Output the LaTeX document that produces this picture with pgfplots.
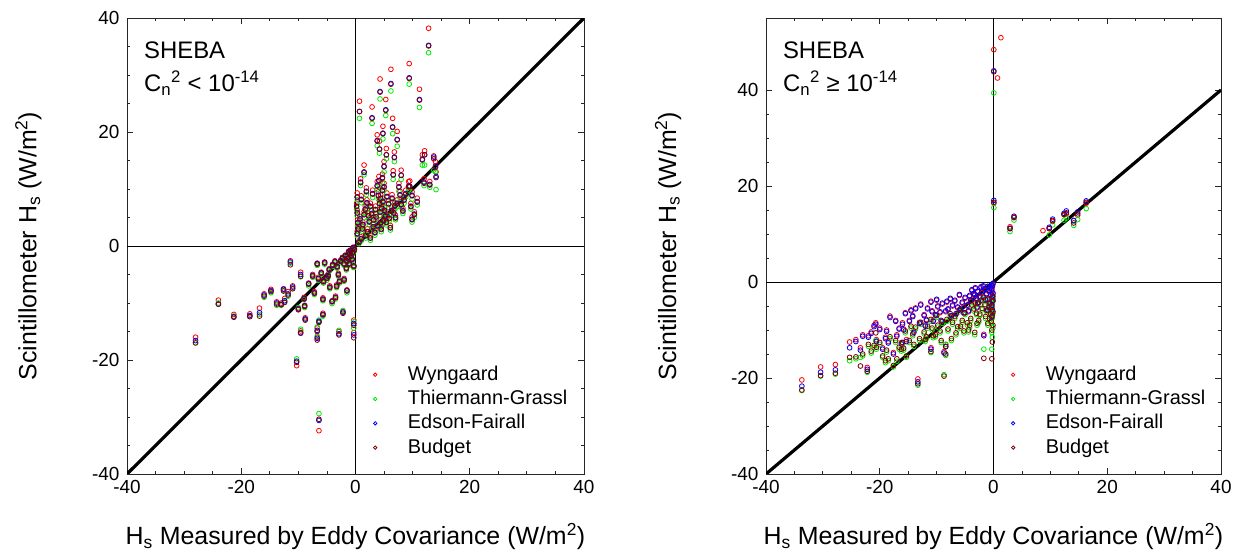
\documentclass[border=0pt]{standalone}
\usepackage{fontspec}
\setmainfont{Liberation Sans}
\usepackage{pgfplots}
\pgfplotsset{compat=1.18}
\usepackage{pgfplotstable}

\definecolor{wy}{RGB}{255,0,0}
\definecolor{tg}{RGB}{0,235,0}
\definecolor{ef}{RGB}{0,0,255}
\definecolor{bu}{RGB}{128,0,0}

\pgfplotstableread{
x W T E B
12.8 38.2 33.9 35.2 35.1
9.4 32.0 28.4 29.5 29.4
6.2 31.0 27.2 28.5 28.4
4.3 29.3 25.8 27.1 27.0
11.2 27.5 24.3 25.7 25.6
0.7 25.4 22.4 23.6 23.6
2.9 24.4 21.5 22.5 22.4
5.3 25.7 22.9 23.9 23.8
6.5 22.4 19.7 20.9 20.8
7.3 20.1 17.5 18.7 18.6
4.2 18.4 16.3 17.0 17.0
5.4 17.1 15.3 16.0 16.0
12.1 16.7 14.2 16.0 16.0
13.7 15.8 13.3 15.6 15.3
14.1 13.0 9.9 12.2 12.0
1.5 14.2 12.5 12.9 13.0
4.7 12.6 11.2 12.0 11.9
6.6 13.2 11.7 12.5 12.5
8.0 13.3 11.7 12.4 12.4
9.5 11.4 9.6 10.5 10.4
4.8 21.0 18.8 19.8 19.7
3.8 19.5 17.6 18.5 18.4
5.0 14.8 13.0 14.0 13.9
6.8 16.5 14.8 15.6 15.5
0.3 9.3 8.1 8.6 8.6
0.3 6.3 5.3 5.8 5.8
0.4 4.6 3.6 4.1 4.0
0.3 2.6 1.8 2.2 2.1
0.8 5.2 4.2 4.8 4.7
1.5 6.0 5.0 5.5 5.5
1.2 3.5 2.6 3.0 3.0
2.0 8.1 7.0 7.6 7.5
2.6 7.5 6.4 7.0 6.9
2.1 3.0 2.0 2.5 2.5
2.6 1.8 1.0 1.4 1.4
2.4 4.8 3.8 4.3 4.2
3.2 5.1 4.0 4.6 4.6
3.4 2.8 1.9 2.4 2.3
3.0 9.8 8.5 9.2 9.1
3.8 11.3 9.9 10.6 10.5
4.0 9.5 8.2 8.9 8.8
4.2 8.0 6.8 7.5 7.4
4.3 6.5 5.4 6.0 5.9
4.4 4.6 3.6 4.1 4.0
4.5 3.4 2.5 3.0 2.9
4.7 10.4 9.1 9.8 9.7
4.6 7.2 6.0 6.6 6.6
4.9 5.0 3.9 4.5 4.4
5.5 9.3 8.0 8.7 8.6
5.8 8.0 6.8 7.4 7.4
6.1 3.6 2.8 3.2 3.2
6.3 6.8 5.6 6.2 6.1
6.7 6.3 5.3 5.8 5.8
5.2 5.8 4.7 5.3 5.2
7.3 8.1 6.9 7.5 7.4
7.6 11.0 9.6 10.4 10.3
8.0 7.8 6.8 7.3 7.2
8.5 8.6 7.5 8.1 8.0
9.3 11.3 9.8 10.5 10.4
9.9 9.5 8.2 8.9 8.8
9.7 7.5 6.5 7.0 6.9
10.3 6.0 5.0 5.6 5.5
9.9 5.1 4.2 4.7 4.6
11.7 16.0 14.2 15.2 15.1
13.0 11.3 10.3 10.8 10.7
1.0 1.6 0.9 1.3 1.2
1.8 2.2 1.4 1.8 1.8
0.6 0.9 0.4 0.7 0.6
5.0 11.0 9.8 10.4 10.3
3.5 7.0 5.9 6.4 6.4
0.2 7.5 6.4 7.0 6.9
0.5 3.4 2.6 3.0 3.0
1.0 8.8 7.6 8.2 8.1
1.3 4.2 3.3 3.8 3.7
1.7 7.0 5.9 6.5 6.4
2.3 5.8 4.8 5.3 5.3
2.8 6.2 5.2 5.7 5.6
3.1 3.8 2.9 3.4 3.3
3.6 5.6 4.6 5.1 5.1
3.9 4.0 3.1 3.6 3.5
4.1 12.2 10.8 11.5 11.4
4.4 9.0 7.8 8.4 8.3
4.8 8.4 7.2 7.8 7.7
5.1 6.8 5.7 6.3 6.2
5.4 4.6 3.7 4.2 4.1
5.9 5.4 4.4 4.9 4.8
6.4 9.0 7.8 8.4 8.3
6.9 7.6 6.5 7.1 7.0
7.0 5.4 4.6 5.0 4.9
7.8 9.6 8.4 9.0 8.9
8.3 6.6 5.7 6.2 6.1
8.8 9.8 8.6 9.2 9.1
10.8 8.4 7.2 7.8 7.7
12.0 11.8 10.6 11.2 11.0
14.0 14.8 13.0 14.0 13.8
0.9 11.8 10.6 11.2 11.1
1.9 10.2 9.0 9.6 9.5
-0.2 -0.5 -0.9 -0.6 -0.7
-0.5 -1.0 -1.4 -1.1 -1.2
-0.8 -1.6 -2.0 -1.7 -1.8
-1.0 -1.2 -1.6 -1.3 -1.4
-1.3 -2.0 -2.4 -2.1 -2.2
-1.5 -2.5 -2.9 -2.6 -2.7
-0.6 -2.2 -2.6 -2.3 -2.4
-1.1 -3.0 -3.4 -3.1 -3.2
-1.8 -1.6 -2.0 -1.7 -1.8
-0.3 -3.4 -3.8 -3.5 -3.6
-2.0 -3.0 -3.4 -3.1 -3.2
-0.9 -0.7 -1.1 -0.8 -0.9
-1.6 -3.8 -4.2 -3.9 -4.0
-2.6 -2.5 -2.9 -2.6 -2.7
-3.2 -3.5 -3.9 -3.6 -3.7
-4.0 -3.2 -3.6 -3.3 -3.4
-4.6 -4.0 -4.4 -4.1 -4.2
-5.4 -2.8 -3.2 -2.9 -3.0
-6.0 -4.6 -5.0 -4.7 -4.8
-6.7 -3.0 -3.4 -3.1 -3.2
-5.0 -5.5 -6.0 -5.6 -5.7
-2.8 -6.0 -6.5 -6.2 -6.3
-2.0 -5.7 -6.2 -5.9 -6.0
-1.5 -7.7 -8.2 -7.8 -7.9
-3.5 -8.8 -9.3 -9.0 -9.1
-4.1 -9.6 -10.1 -9.7 -9.8
-5.7 -9.1 -9.6 -9.3 -9.4
-5.7 -11.8 -12.3 -12.0 -12.1
-7.5 -5.0 -5.5 -5.2 -5.3
-8.2 -6.5 -7.0 -6.6 -6.7
-9.6 -4.6 -5.4 -5.0 -5.3
-8.9 -10.4 -10.8 -10.5 -10.6
-8.8 -12.6 -12.9 -12.8 -13.0
-10.0 -11.2 -10.8 -11.0 -11.1
-6.4 -13.3 -13.0 -13.2 -13.4
-9.6 -14.9 -14.6 -15.3 -15.2
-6.7 -14.4 -14.2 -14.8 -15.0
-6.7 -16.0 -15.8 -16.2 -16.5
-2.9 -15.0 -14.8 -15.4 -15.6
-0.3 -13.0 -13.3 -13.6 -13.9
-0.3 -15.2 -14.4 -15.6 -16.1
-2.2 -11.5 -11.3 -11.6 -11.8
-10.3 -21.0 -19.8 -20.2 -20.4
-6.4 -32.4 -29.4 -30.6 -30.4
-11.4 -2.6 -3.0 -2.8 -3.3
-11.0 -7.0 -7.4 -7.2 -7.5
-11.8 -8.0 -8.8 -8.4 -8.6
-12.4 -9.2 -9.8 -9.6 -9.9
-13.0 -10.0 -10.4 -10.2 -10.3
-13.8 -9.8 -10.4 -10.0 -10.2
-12.6 -7.5 -7.8 -7.6 -7.9
-14.8 -7.6 -8.2 -7.8 -8.0
-16.0 -8.4 -9.0 -8.6 -8.8
-16.8 -10.9 -12.0 -11.7 -12.3
-18.5 -11.9 -12.3 -12.2 -12.4
-21.3 -12.0 -12.3 -12.4 -12.5
-24.0 -9.5 -10.0 -10.2 -10.2
-28.0 -16.0 -17.0 -16.6 -17.0
-4.5 -7.0 -7.5 -7.2 -7.3
-3.0 -4.8 -5.3 -5.0 -5.1
-7.2 -8.0 -8.5 -8.2 -8.3
-9.0 -9.0 -9.4 -9.2 -9.3
-0.4 -0.2 -0.6 -0.3 -0.4
-1.2 -0.9 -1.3 -1.0 -1.1
-2.3 -2.0 -2.4 -2.1 -2.2
-3.6 -2.6 -3.0 -2.7 -2.8
-4.8 -5.0 -5.5 -5.2 -5.3
-5.6 -6.0 -6.5 -6.2 -6.3
-6.5 -5.5 -6.0 -5.7 -5.8
-3.3 -6.8 -7.3 -7.0 -7.1
}\leftdata

\pgfplotstableread{
x W T E B
0.05 48.4 39.4 44.0 43.8
1.3 50.9 nan nan nan
0.7 42.5 nan nan nan
0.06 16.4 15.5 17.0 16.6
3.6 13.4 12.9 13.7 13.5
2.9 11.5 10.5 11.2 11.1
8.7 10.7 nan nan nan
9.8 11.2 9.8 11.4 11.1
10.4 12.6 11.9 13.1 12.8
12.4 14.0 12.9 14.3 14.1
12.8 14.2 13.3 14.8 14.4
14.1 12.8 11.8 12.8 12.3
14.8 13.9 13.0 14.6 14.2
16.3 16.4 15.3 16.9 16.6
-0.1 -0.5 -3.5 -0.3 -3.0
-0.2 -1.0 -4.5 -0.8 -4.0
-0.3 -1.8 -5.5 -1.5 -5.2
-0.1 -2.5 -6.5 -2.3 -6.2
-0.2 -3.2 -7.5 -3.0 -7.0
-0.4 -0.8 -8.5 -0.6 -8.2
-0.6 -1.4 -4.8 -1.2 -4.5
-0.8 -2.0 -5.6 -1.8 -5.3
-1.0 -1.0 -3.8 -0.9 -3.6
-1.2 -2.6 -6.2 -2.4 -5.9
-1.5 -1.6 -5.0 -1.4 -4.7
-1.7 -10.9 -14.0 -11.2 -15.9
-2.0 -2.2 -5.8 -2.0 -5.5
-2.4 -3.3 -7.0 -3.1 -6.7
-2.8 -2.0 -4.6 -1.9 -4.4
-3.0 -3.6 -6.8 -3.4 -6.5
-0.1 -4.0 -9.5 -3.8 -9.0
-0.3 -5.0 -10.5 -4.8 -10.0
-0.2 -6.0 -11.5 -5.8 -12.5
-3.5 -2.6 -6.0 -2.4 -5.6
-4.0 -4.0 -8.0 -3.8 -7.6
-4.2 -3.0 -9.5 -2.8 -9.0
-4.6 -5.0 -9.0 -4.8 -8.5
-5.0 -3.4 -6.8 -3.2 -6.4
-5.5 -4.4 -8.4 -4.2 -8.0
-6.0 -2.8 -6.2 -2.6 -5.8
-6.3 -5.4 -9.8 -5.2 -9.3
-6.8 -4.0 -7.6 -3.8 -7.2
-7.2 -5.0 -8.8 -4.8 -8.4
-7.6 -3.6 -7.0 -3.4 -6.6
-8.0 -5.8 -10.2 -5.6 -9.8
-8.4 -6.2 -13.0 -6.0 -13.5
-8.7 -14.5 -19.3 -14.8 -19.6
-9.0 -4.6 -8.6 -4.4 -8.2
-9.4 -6.4 -10.6 -6.2 -10.2
-9.8 -5.2 -9.4 -5.0 -9.0
-10.2 -7.0 -11.4 -6.8 -11.0
-8.4 -13.0 -15.3 -13.4 -15.0
-5.2 -6.6 -10.6 -6.4 -10.2
-3.8 -1.8 -5.2 -1.6 -4.8
-2.2 -1.2 -4.0 -1.0 -3.8
-11.0 -4.0 -8.2 -4.2 -7.8
-11.0 -13.7 -14.7 -14.0 -14.5
-11.6 -5.4 -9.6 -5.6 -9.2
-12.2 -6.8 -10.8 -7.0 -10.4
-12.8 -4.6 -8.8 -4.8 -8.4
-13.3 -20.2 -21.5 -20.8 -21.2
-13.7 -5.4 -9.8 -5.6 -9.4
-14.2 -7.0 -11.2 -7.2 -10.8
-14.8 -8.0 -12.6 -8.2 -12.2
-15.5 -6.4 -10.6 -6.6 -10.2
-15.3 -12.0 -15.7 -12.4 -15.4
-16.0 -8.5 -13.0 -8.8 -12.6
-16.6 -9.6 -14.0 -9.8 -13.6
-17.6 -14.7 -17.7 -15.0 -17.4
-18.2 -7.1 -11.8 -7.4 -11.4
-18.8 -10.0 -14.6 -10.3 -14.2
-19.5 -13.7 -15.7 -14.0 -15.4
-20.0 -9.6 -13.0 -9.9 -12.6
-20.7 -8.5 -12.2 -8.8 -10.6
-20.6 -12.0 -14.0 -12.4 -13.6
-21.5 -10.4 -14.8 -10.7 -14.4
-22.0 -11.2 -13.4 -11.5 -13.0
-22.2 -17.8 -18.8 -18.2 -18.6
-23.4 -13.7 -15.7 -14.2 -17.5
-24.2 -12.0 -16.0 -12.4 -15.6
-25.3 -12.5 -16.4 -13.7 -15.7
-27.8 -17.2 -19.2 -18.3 -19.0
-30.4 -17.7 -19.6 -18.8 -19.5
-33.7 -20.4 -22.6 -21.7 -22.5
-17.0 -11.0 -16.5 -11.3 -16.0
-14.0 -10.2 -13.4 -10.5 -13.0
-12.0 -9.0 -12.4 -9.2 -12.0
-10.6 -8.0 -11.6 -8.2 -11.2
-19.0 -11.5 -16.8 -11.8 -16.4
-16.2 -12.6 -14.4 -12.9 -14.0
-1.0 -6.0 -9.0 -5.8 -8.6
-1.4 -3.8 -7.6 -3.6 -7.2
-2.6 -4.4 -8.4 -4.2 -8.0
-3.2 -1.4 -4.8 -1.2 -4.4
-4.4 -6.2 -10.4 -6.0 -10.0
-5.8 -5.8 -9.6 -5.6 -9.2
-6.6 -6.8 -11.0 -6.6 -10.6
-7.4 -7.2 -12.2 -7.0 -11.8
-8.2 -4.2 -8.2 -4.0 -7.8
-9.2 -8.2 -12.6 -8.0 -12.2
-10.0 -3.8 -7.4 -3.6 -7.0
-10.8 -6.0 -10.0 -6.2 -9.6
-11.8 -7.8 -11.8 -8.0 -11.4
-13.0 -8.4 -12.2 -8.6 -11.8
-14.5 -5.8 -9.6 -6.0 -9.2
-15.8 -9.8 -14.2 -10.0 -13.8
-17.2 -8.0 -12.6 -8.2 -12.2
-18.5 -12.4 -16.4 -12.7 -16.0
-21.0 -9.0 -13.6 -9.3 -13.2
-23.0 -11.0 -15.4 -11.3 -15.0
-0.5 -2.8 -7.0 -2.6 -6.6
-0.7 -4.4 -8.0 -4.2 -7.6
-1.8 -1.0 -3.4 -0.8 -3.2
-2.9 -5.4 -9.0 -5.2 -8.6
-3.3 -2.8 -11.0 -2.6 -10.5
-0.3 -7.5 -14.0 -7.2 -16.0
}\rightdata

\pgfplotsset{
  sheba/.style={
    scale only axis, width=457bp, height=456bp,
    xmin=-40, xmax=40, xtick={-40,-20,...,40},
    minor x tick num=3, minor y tick num=3,
    tick align=inside, major tick length=6bp, minor tick length=3bp,
    axis line style={line width=0.8bp, black!85},
    every tick/.style={line width=0.8bp, black!85},
    tick label style={font=\fontsize{19}{21}\selectfont},
    xticklabel style={yshift=-3bp},
    yticklabel style={xshift=-4bp},
    /pgf/number format/assume math mode=true,
    label style={font=\fontsize{25}{28}\selectfont},
    xlabel style={at={(axis description cs:0.5,-0.138)}, anchor=center},
    legend style={draw=none, fill=none, font=\fontsize{20}{22}\selectfont,
      at={(axis description cs:0.539,0.239)}, anchor=north west,
      row sep=5.3bp, inner sep=0pt,
      nodes={text height=15bp, text depth=4bp, inner sep=0pt},
      /tikz/every odd column/.append style={column sep=31bp}},
    legend cell align=left,
    legend image post style={mark size=1.7bp, line width=0.7bp},
    every axis plot/.append style={only marks, mark=o, mark size=2.4bp, mark options={line width=0.8bp}},
  },
}

\begin{document}
\begin{tikzpicture}
\path[use as bounding box] (0,0) rectangle (1243bp,558bp);
\begin{axis}[sheba, at={(127bp,84bp)}, anchor=south west,
  ymin=-40, ymax=40, ytick={-40,-20,...,40},
  ylabel style={at={(axis description cs:-0.216,0.5)}, anchor=center},
  xlabel={H\textsubscript{s} Measured by Eddy Covariance (W/m\textsuperscript{2})},
  ylabel={Scintillometer H\textsubscript{s} (W/m\textsuperscript{2})}]
\addplot[forget plot, no marks, sharp plot, line width=0.8bp, black] coordinates {(-40,0) (40,0)};
\addplot[forget plot, no marks, sharp plot, line width=0.8bp, black] coordinates {(0,-40) (0,40)};
\addplot[forget plot, no marks, sharp plot, line width=3.2bp, black] coordinates {(-40,-40) (40,40)};
\addplot[wy] table[x=x, y=W] {\leftdata}; \addlegendentry{Wyngaard}
\addplot[tg] table[x=x, y=T] {\leftdata}; \addlegendentry{Thiermann-Grassl}
\addplot[ef] table[x=x, y=E] {\leftdata}; \addlegendentry{Edson-Fairall}
\addplot[bu] table[x=x, y=B] {\leftdata}; \addlegendentry{Budget}
\node[anchor=base west, inner sep=0pt, font=\fontsize{24}{27}\selectfont] at (axis description cs:0.037,0.912) {SHEBA};
\node[anchor=base west, inner sep=0pt, font=\fontsize{24}{27}\selectfont] at (axis description cs:0.037,0.838) {C\textsubscript{n}\textsuperscript{2} < 10\textsuperscript{-14}};
\end{axis}
\begin{axis}[sheba, at={(766bp,84bp)}, anchor=south west, width=455bp,
  ymin=-40, ymax=55, ytick={-40,-20,...,40},
  ylabel style={at={(axis description cs:-0.2154,0.5)}, anchor=center},
  xlabel={H\textsubscript{s} Measured by Eddy Covariance (W/m\textsuperscript{2})},
  ylabel={Scintillometer H\textsubscript{s} (W/m\textsuperscript{2})}]
\addplot[forget plot, no marks, sharp plot, line width=0.8bp, black] coordinates {(-40,0) (40,0)};
\addplot[forget plot, no marks, sharp plot, line width=0.8bp, black] coordinates {(0,-40) (0,55)};
\addplot[forget plot, no marks, sharp plot, line width=3.2bp, black] coordinates {(-40,-40) (40,40)};
\addplot[wy] table[x=x, y=W] {\rightdata}; \addlegendentry{Wyngaard}
\addplot[tg] table[x=x, y=T] {\rightdata}; \addlegendentry{Thiermann-Grassl}
\addplot[ef] table[x=x, y=E] {\rightdata}; \addlegendentry{Edson-Fairall}
\addplot[bu] table[x=x, y=B] {\rightdata}; \addlegendentry{Budget}
\node[anchor=base west, inner sep=0pt, font=\fontsize{24}{27}\selectfont] at (axis description cs:0.037,0.912) {SHEBA};
\node[anchor=base west, inner sep=0pt, font=\fontsize{24}{27}\selectfont] at (axis description cs:0.037,0.838) {C\textsubscript{n}\textsuperscript{2} ≥ 10\textsuperscript{-14}};
\end{axis}
\end{tikzpicture}
\end{document}
